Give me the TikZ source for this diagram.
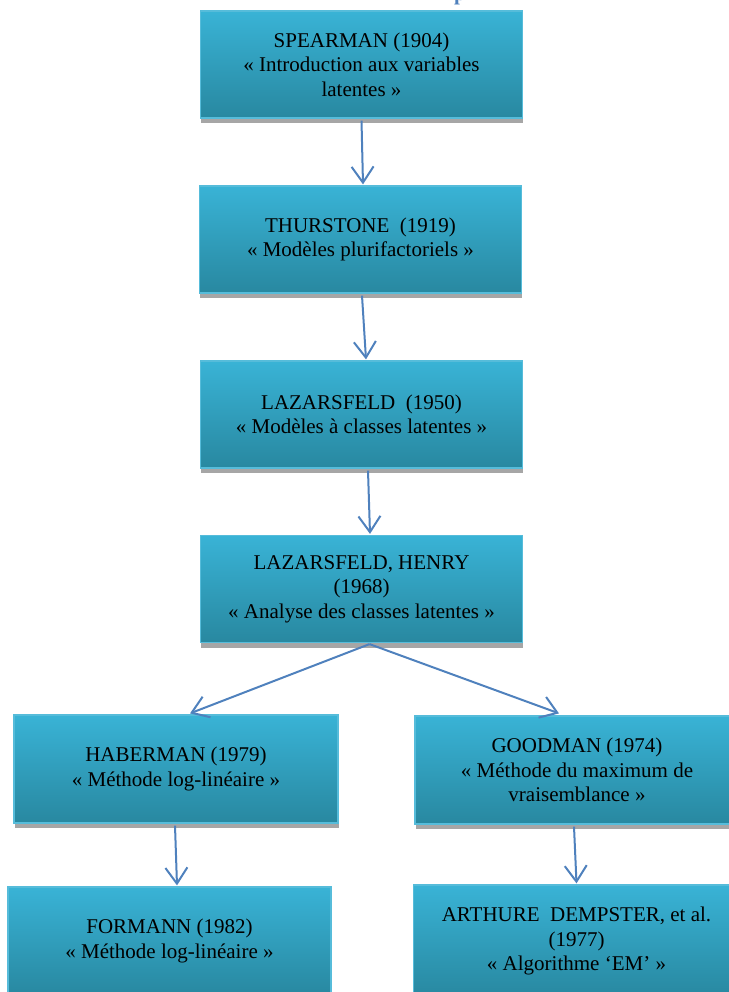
\documentclass[tikz,border=0pt]{standalone}
\usepackage{fontspec}
\setmainfont{Liberation Serif}
\usetikzlibrary{arrows.meta,shadows}

\definecolor{boxtop}{RGB}{57,179,214}
\definecolor{boxbottom}{RGB}{40,136,160}
\definecolor{boxedge}{RGB}{86,188,218}
\definecolor{shadowgray}{RGB}{166,166,166}
\definecolor{linkblue}{RGB}{79,129,189}

\tikzset{
  author/.style={
    rectangle, inner sep=0pt, align=center,
    top color=boxtop, bottom color=boxbottom,
    draw=boxedge, line width=1.2pt,
    drop shadow={shadow xshift=0.5pt, shadow yshift=-5pt,
                 fill=shadowgray, opacity=1},
    font=\fontsize{21}{24.5}\selectfont, text=black
  },
  link/.style={
    draw=linkblue, line width=2pt,
    -{Straight Barb[length=16pt,width=22pt,line width=2pt]}
  }
}

\begin{document}
\begin{tikzpicture}[x=1pt,y=-1pt]
  \useasboundingbox (0,0) rectangle (728,992);

  % heading text cut by the page top
  \node[anchor=base west, inner sep=0pt, text=linkblue,
        font=\fontsize{21}{24}\selectfont\bfseries] (heading) at (454,0.5) {p};

  % chain of authors
  \node[author, minimum width=322pt, minimum height=107pt] (spearman) at (361.5,64.5)
    {SPEARMAN (1904)\\« Introduction aux variables\\latentes »};
  \node[author, minimum width=322pt, minimum height=107pt] (thurstone) at (360.5,239.5)
    {THURSTONE\ \ (1919)\\« Modèles plurifactoriels »};
  \node[author, minimum width=322pt, minimum height=107pt] (lazarsfeld) at (361.5,414.5)
    {LAZARSFELD\ \ (1950)\\« Modèles à classes latentes »};
  \node[author, minimum width=322pt, minimum height=107pt] (lazhenry) at (361.5,589)
    {LAZARSFELD, HENRY\\(1968)\\« Analyse des classes latentes »};

  % two branches
  \node[author, minimum width=324pt, minimum height=108pt] (haberman) at (176,769)
    {HABERMAN (1979)\\« Méthode log-linéaire »};
  \node[author, minimum width=324pt, minimum height=108pt] (goodman) at (577,770)
    {GOODMAN (1974)\\« Méthode du maximum de\\vraisemblance »};
  \node[author, minimum width=323pt, minimum height=108pt] (formann) at (169.5,941)
    {FORMANN (1982)\\« Méthode log-linéaire »};
  \node[author, minimum width=326pt, minimum height=112pt] (dempster) at (576.5,941)
    {ARTHURE\ \ DEMPSTER, et al.\\(1977)\\« Algorithme ‘EM’ »};

  % connectors
  \draw[link] ([yshift=-2pt]spearman.south) -- ([xshift=2.5pt,yshift=1pt]thurstone.north);
  \draw[link] ([xshift=1.5pt,yshift=-2pt]thurstone.south) -- ([xshift=4.5pt,yshift=1pt]lazarsfeld.north);
  \draw[link] ([xshift=6.5pt,yshift=-2pt]lazarsfeld.south) -- ([xshift=8.5pt,yshift=1pt]lazhenry.north);
  \coordinate (fork) at ([xshift=8pt,yshift=-1pt]lazhenry.south);
  \draw[link] (fork) -- ([xshift=14pt,yshift=1pt]haberman.north);
  \draw[link] (fork) -- ([xshift=-18pt,yshift=2pt]goodman.north);
  \draw[link] ([xshift=-1pt,yshift=-2pt]haberman.south) -- ([xshift=7.5pt,yshift=1pt]formann.north);
  \draw[link] ([xshift=-3pt,yshift=-2pt]goodman.south) -- ([yshift=1pt]dempster.north);
\end{tikzpicture}
\end{document}
